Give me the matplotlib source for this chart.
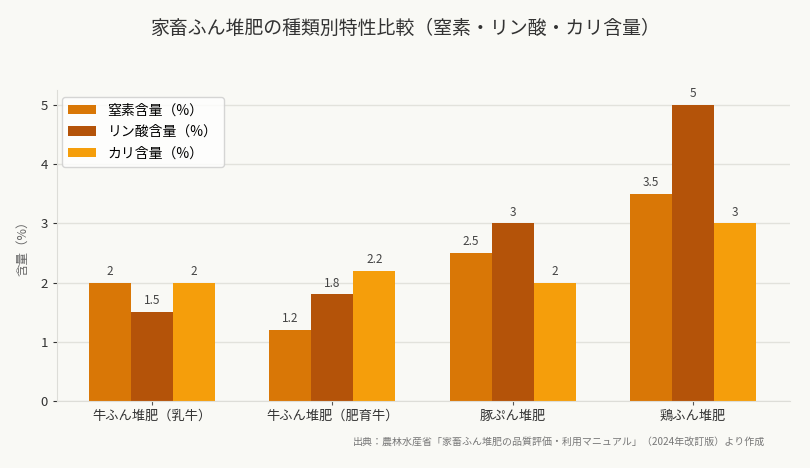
import matplotlib
matplotlib.use('Agg')
from matplotlib import pyplot as plt
import numpy as np

plt.rcParams['font.family'] = ['Noto Sans CJK JP', 'DejaVu Sans']

categories = ['牛ふん堆肥（乳牛）', '牛ふん堆肥（肥育牛）', '豚ぷん堆肥', '鶏ふん堆肥']
nitrogen = [2, 1.2, 2.5, 3.5]
phosphorus = [1.5, 1.8, 3, 5]
potassium = [2, 2.2, 2, 3]
series_names = ['窒素含量（%）', 'リン酸含量（%）', 'カリ含量（%）']
colors = ['#D97706', '#B45309', '#F59E0B']

bg = '#F9F9F5'
fig = plt.figure(figsize=(8.1, 4.68), dpi=100, facecolor=bg)
ax = fig.add_axes([57 / 810, 1 - 401 / 468, (790 - 57) / 810, (401 - 90) / 468])
ax.set_facecolor(bg)

x = np.arange(len(categories))
w = 0.233
for i, (vals, name, c) in enumerate(zip([nitrogen, phosphorus, potassium], series_names, colors)):
    bars = ax.bar(x + (i - 1) * w, vals, w, color=c, label=name, zorder=2)
    for b, v in zip(bars, vals):
        ax.text(b.get_x() + b.get_width() / 2, v + 0.08, f'{v:g}', ha='center', va='bottom',
                fontsize=8.5, color='#444444')

ax.set_xlim(-0.527, 3.538)
ax.set_ylim(0, 5.25)
ax.set_xticks(x)
ax.set_xticklabels(categories, fontsize=9.5, color='#333333')
ax.set_yticks(range(6))
ax.tick_params(axis='y', labelsize=9.5, colors='#333333', length=3)
ax.tick_params(axis='x', length=3, color='#555555')
ax.yaxis.grid(True, color='#E2E2DC', linewidth=1, zorder=0)
for s in ['top', 'right']:
    ax.spines[s].set_visible(False)
for s in ['left', 'bottom']:
    ax.spines[s].set_color('#DDDDD8')
ax.set_ylabel('含量（%）', fontsize=9, color='#666666', labelpad=8)

leg = ax.legend(loc='upper left', fontsize=10, frameon=True, borderpad=0.45,
                handlelength=2.0, handleheight=0.65, labelspacing=0.55, handletextpad=0.85,
                bbox_to_anchor=(-0.003, 1.0))
leg.get_frame().set_edgecolor('#CCCCCC')
leg.get_frame().set_facecolor('white')

fig.text(0.5, 1 - 28 / 468, '家畜ふん堆肥の種類別特性比較（窒素・リン酸・カリ含量）',
         ha='center', va='center', fontsize=13.6, color='#333333')
fig.text(765 / 810, 1 - 442 / 468,
         '出典：農林水産省「家畜ふん堆肥の品質評価・利用マニュアル」（2024年改訂版）より作成',
         ha='right', va='center', fontsize=7.2, color='#777777')

fig.savefig('out.png', dpi=100, facecolor=bg)
